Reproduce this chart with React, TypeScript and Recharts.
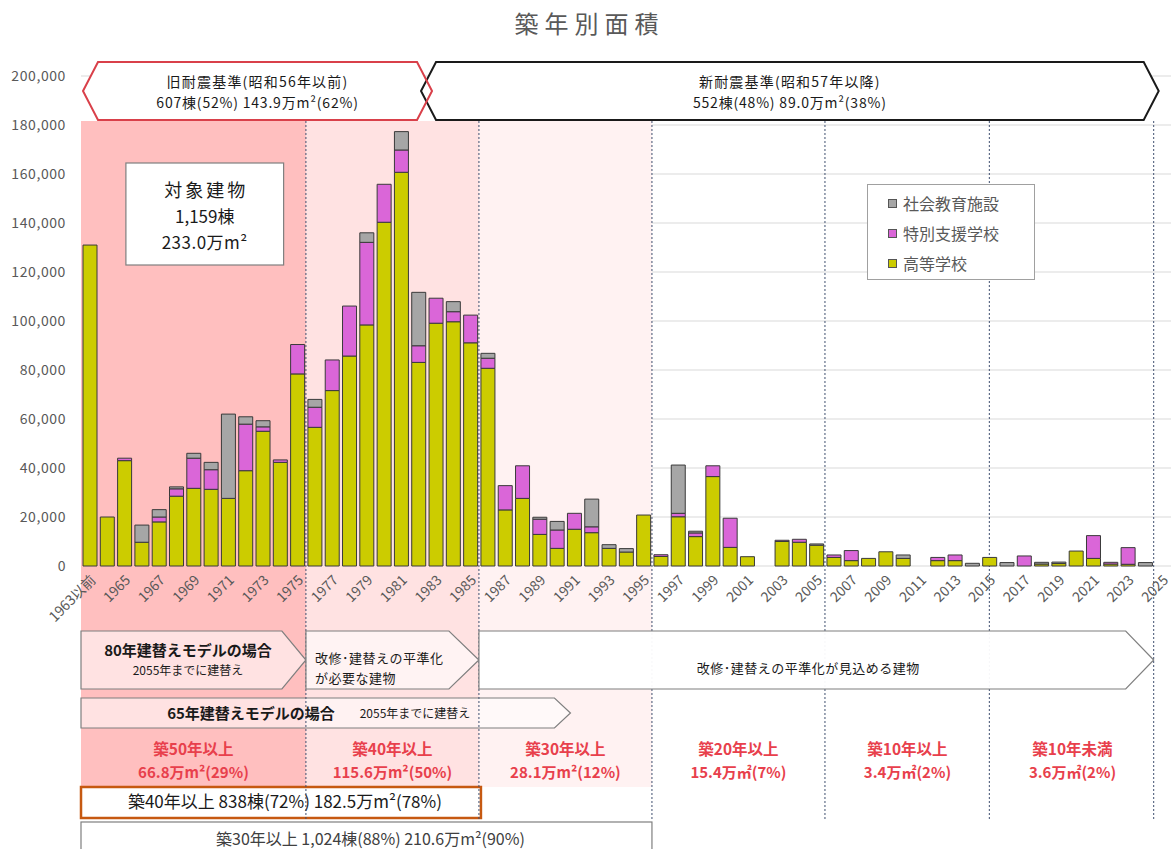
import React from 'react';
import { BarChart, Bar, XAxis, YAxis, CartesianGrid, ReferenceArea, Legend } from 'recharts';

const categories = ['1963以前','1964','1965','1966','1967','1968','1969','1970','1971','1972','1973','1974','1975','1976','1977','1978','1979','1980','1981','1982','1983','1984','1985','1986','1987','1988','1989','1990','1991','1992','1993','1994','1995','1996','1997','1998','1999','2000','2001','2002','2003','2004','2005','2006','2007','2008','2009','2010','2011','2012','2013','2014','2015','2016','2017','2018','2019','2020','2021','2022','2023','2024','2025'];

// 高等学校
const highSchool = [131000,20000,43000,9700,18000,28500,31700,31300,27600,38900,55000,42300,78400,56600,71600,85700,98400,140300,160700,83100,99100,99700,91100,80700,22900,27600,12900,7200,15000,13600,7200,5700,20800,3900,20100,12000,36500,7600,3800,0,10000,9700,8500,3500,2200,3100,5800,3100,0,2200,2200,0,3500,0,0,800,1000,6100,3100,800,700,0,0];
// 特別支援学校
const specialSupport = [0,0,1000,0,2000,3000,12300,8000,0,19000,1800,1000,12000,8200,12500,20400,33700,15500,9100,6800,10200,4100,11300,4100,9900,13300,6200,7500,6500,2400,0,0,0,700,1400,1500,4400,11900,0,0,500,1200,0,1000,4100,0,0,0,0,1300,2300,0,0,0,4100,0,0,0,9300,700,6800,0,0];
// 社会教育施設
const socialEducation = [0,0,0,7000,3000,800,2000,3000,34400,3000,2500,0,0,3200,0,0,3900,0,7500,21800,0,4100,0,2000,0,0,800,3500,0,11300,1500,1400,0,0,19700,700,0,0,0,0,0,0,500,0,0,0,0,1400,0,0,0,1100,0,1400,0,700,600,0,0,0,0,1400,0];

const yTicks = [0,20000,40000,60000,80000,100000,120000,140000,160000,180000,200000];

const seriesNames = ['高等学校','特別支援学校','社会教育施設'];
const legendOrder = ['社会教育施設','特別支援学校','高等学校'];

const redLabels = [
  ['築50年以上','66.8万m²(29%)'],
  ['築40年以上','115.6万m²(50%)'],
  ['築30年以上','28.1万m²(12%)'],
  ['築20年以上','15.4万㎡(7%)'],
  ['築10年以上','3.4万㎡(2%)'],
  ['築10年未満','3.6万㎡(2%)'],
];
const redSpans = [['1963以前','1975',0],['1976','1985',0],['1986','1995',0],['1996','2005',0],['2006','2015',-4],['2016','2025',-12]];

const YELLOW = '#CCCC00';
const PINK = '#DA66D8';
const GRAY = '#A6A6A6';
const colorOf: Record<string,string> = { '高等学校': YELLOW, '特別支援学校': PINK, '社会教育施設': GRAY };

const data = categories.map((c, i) => ({
  year: c,
  [seriesNames[0]]: highSchool[i],
  [seriesNames[1]]: specialSupport[i],
  [seriesNames[2]]: socialEducation[i],
}));

const W = 1173;
const H = 849;
const FONT = '"Noto Sans CJK JP", "Noto Sans", sans-serif';
const BG_TOP = 121;
const BG_BOTTOM = 787;
const LINE_TOP = 121;
const LINE_BOTTOM = 821;

const bgShape = (fill: string) => (p: any) => (
  <rect x={p.x} y={BG_TOP} width={p.width} height={BG_BOTTOM - BG_TOP} fill={fill} />
);

const vline = (pos: 'middle' | 'end') => (p: any) => {
  const x = pos === 'end' ? p.x + p.width : p.x + p.width / 2;
  return <line x1={x} x2={x} y1={LINE_TOP} y2={LINE_BOTTOM} stroke="#3F4F6F" strokeWidth={1} strokeDasharray="2 2" />;
};

const HX_T = 62, HX_B = 120, HX_M = 91, HX_D = 15;
const hexPoints = (l: number, r: number) =>
  `${l},${HX_M} ${l + HX_D},${HX_T} ${r - HX_D},${HX_T} ${r},${HX_M} ${r - HX_D},${HX_B} ${l + HX_D},${HX_B}`;

const hexFill = (dl: number, dr: number) => (p: any) => (
  <polygon points={hexPoints(p.x + dl, p.x + p.width + dr)} fill="#ffffff" stroke="none" />
);
const hexStroke = (dl: number, dr: number, stroke: string, line1: string, line2: string) => (p: any) => {
  const l = p.x + dl;
  const r = p.x + p.width + dr;
  const cx = (l + r) / 2;
  return (
    <g>
      <polygon points={hexPoints(l, r)} fill="none" stroke={stroke} strokeWidth={2} />
      <text x={cx} y={87} textAnchor="middle" fontSize={14} letterSpacing={1.2} fill="#1a1a1a" fontFamily={FONT}>{line1}</text>
      <text x={cx} y={108} textAnchor="middle" fontSize={14} letterSpacing={0.8} fill="#1a1a1a" fontFamily={FONT}>{line2}</text>
    </g>
  );
};

const pentPoints = (l: number, r: number, t: number, b: number, tip: number) =>
  `${l},${t} ${r - tip},${t} ${r},${(t + b) / 2} ${r - tip},${b} ${l},${b}`;

const arrow80 = (p: any) => {
  const l = p.x, r = p.x + p.width;
  return (
    <g>
      <polygon points={pentPoints(l, r, 631, 689, 24)} fill="#ffffff" fillOpacity={0.55} stroke="#7F7F7F" strokeWidth={1.2} />
      <text x={188} y={656} textAnchor="middle" fontSize={15} fontWeight="bold" fill="#1a1a1a" fontFamily={FONT}>80年建替えモデルの場合</text>
      <text x={188} y={675} textAnchor="middle" fontSize={12} fill="#1a1a1a" fontFamily={FONT}>2055年までに建替え</text>
    </g>
  );
};

const arrowKaishu = (p: any) => {
  const l = p.x, r = p.x + p.width;
  return (
    <g>
      <polygon points={pentPoints(l, r, 631, 689, 30)} fill="#ffffff" fillOpacity={0.6} stroke="#7F7F7F" strokeWidth={1.2} />
      <text x={l + 9} y={663} fontSize={13} fill="#1a1a1a" fontFamily={FONT} letterSpacing={0.5}>改修･建替えの平準化</text>
      <text x={l + 9} y={683} fontSize={13} fill="#1a1a1a" fontFamily={FONT} letterSpacing={0.5}>が必要な建物</text>
    </g>
  );
};

const arrowBig = (p: any) => {
  const l = p.x, r = p.x + p.width;
  return (
    <g>
      <polygon points={pentPoints(l, r, 631, 689, 28)} fill="#ffffff" fillOpacity={0.95} stroke="#7F7F7F" strokeWidth={1.2} />
      <text x={(l + r) / 2 - 8} y={673} textAnchor="middle" fontSize={13} fill="#1a1a1a" fontFamily={FONT} letterSpacing={0.5}>改修･建替えの平準化が見込める建物</text>
    </g>
  );
};

const arrow65 = (p: any) => {
  const l = p.x, r = p.x + p.width + 5;
  return (
    <g>
      <polygon points={pentPoints(l, r, 698, 728, 16)} fill="#ffffff" fillOpacity={0.55} stroke="#7F7F7F" strokeWidth={1.2} />
      <text x={251} y={719} textAnchor="middle" fontSize={15} fontWeight="bold" fill="#1a1a1a" fontFamily={FONT}>65年建替えモデルの場合</text>
      <text x={415} y={718} textAnchor="middle" fontSize={12} fill="#1a1a1a" fontFamily={FONT}>2055年までに建替え</text>
    </g>
  );
};

const orangeBox = (p: any) => {
  const l = p.x, r = p.x + p.width + 2;
  return (
    <g>
      <rect x={l} y={787} width={r - l} height={31} fill="#ffffff" stroke="#C65911" strokeWidth={2.5} />
      <text x={(l + r) / 2 + 4} y={808} textAnchor="middle" fontSize={17} fill="#1a1a1a" fontFamily={FONT}>築40年以上 838棟(72%) 182.5万m²(78%)</text>
    </g>
  );
};

const grayBox = (p: any) => {
  const l = p.x, r = p.x + p.width;
  return (
    <g>
      <rect x={l} y={822} width={r - l} height={40} fill="#ffffff" stroke="#7F7F7F" strokeWidth={1.2} />
      <text x={(l + r) / 2 + 4} y={845} textAnchor="middle" fontSize={16} fill="#404040" fontFamily={FONT}>築30年以上 1,024棟(88%) 210.6万m²(90%)</text>
    </g>
  );
};

const targetBox = (p: any) => {
  const l = p.x - 7, r = p.x + p.width - 5;
  const cx = (l + r) / 2;
  return (
    <g>
      <rect x={l} y={163} width={r - l} height={102} fill="#ffffff" stroke="#7F7F7F" strokeWidth={1.2} />
      <text x={cx + 1.5} y={197} textAnchor="middle" fontSize={18} letterSpacing={3} fill="#1a1a1a" fontFamily={FONT}>対象建物</text>
      <text x={cx} y={223} textAnchor="middle" fontSize={17} fill="#1a1a1a" fontFamily={FONT}>1,159棟</text>
      <text x={cx} y={249} textAnchor="middle" fontSize={17} letterSpacing={0.5} fill="#1a1a1a" fontFamily={FONT}>233.0万m²</text>
    </g>
  );
};

const redText = (lines: string[], dx: number) => (p: any) => {
  const cx = p.x + p.width / 2 + dx;
  return (
    <g>
      <text x={cx} y={755} textAnchor="middle" fontSize={15.5} fontWeight="bold" fill="#E8404C" fontFamily={FONT}>{lines[0]}</text>
      <text x={cx} y={778} textAnchor="middle" fontSize={15} fontWeight="bold" fill="#E8404C" fontFamily={FONT}>{lines[1]}</text>
    </g>
  );
};

const LegendBox = () => (
  <div style={{ width: 168, height: 96, boxSizing: 'border-box', border: '1px solid #A0A0A0', background: '#fff', paddingTop: 3, paddingLeft: 20, fontFamily: FONT }}>
    {legendOrder.map((name) => (
      <div key={name} style={{ display: 'flex', alignItems: 'center', height: 30, fontSize: 16, color: '#595959' }}>
        <span style={{ display: 'inline-block', width: 7, height: 7, background: colorOf[name], border: '1px solid #555', marginRight: 6 }} />
        {name}
      </div>
    ))}
  </div>
);

export default function App() {
  return (
    <div style={{ position: 'absolute', left: 0, top: 0, width: W, height: H, background: '#ffffff', fontFamily: FONT, overflow: 'hidden' }}>
      <div style={{ position: 'absolute', left: 0, top: 0 }}>
        <BarChart width={W} height={H} data={data} margin={{ top: 76, right: 2, bottom: 253, left: 11 }} barSize={14}>
          <CartesianGrid vertical={false} stroke="#D9D9D9" />
          <ReferenceArea x1="1963以前" x2="1975" shape={bgShape('#FFBFBF')} />
          <ReferenceArea x1="1976" x2="1985" shape={bgShape('#FFE2E2')} />
          <ReferenceArea x1="1986" x2="1995" shape={bgShape('#FFF2F2')} />
          <XAxis
            dataKey="year"
            interval={1}
            height={30}
            axisLine={false}
            tickLine={false}
            angle={-45}
            textAnchor="end"
            tick={{ fill: '#595959', fontSize: 14, fontFamily: FONT }}
          />
          <YAxis
            width={70}
            domain={[0, 200000]}
            ticks={yTicks}
            axisLine={false}
            tickLine={false}
            tickMargin={9}
            tickFormatter={(v: number) => v.toLocaleString('en-US')}
            tick={{ fill: '#595959', fontSize: 14, fontFamily: FONT, letterSpacing: 0.6 }}
          />
          <Bar dataKey={seriesNames[0]} stackId="a" fill={YELLOW} stroke="#3a3a3a" strokeWidth={1} isAnimationActive={false} />
          <Bar dataKey={seriesNames[1]} stackId="a" fill={PINK} stroke="#3a3a3a" strokeWidth={1} isAnimationActive={false} />
          <Bar dataKey={seriesNames[2]} stackId="a" fill={GRAY} stroke="#3a3a3a" strokeWidth={1} isAnimationActive={false} />
          <ReferenceArea x1="1963以前" x2="1990" shape={arrow65} />
          <ReferenceArea x1="1963以前" x2="1985" shape={orangeBox} />
          <ReferenceArea x1="1963以前" x2="1995" shape={grayBox} />
          <ReferenceArea x1="1975" x2="1975" shape={vline('end')} />
          <ReferenceArea x1="1985" x2="1985" shape={vline('end')} />
          <ReferenceArea x1="1995" x2="1995" shape={vline('end')} />
          <ReferenceArea x1="2005" x2="2005" shape={vline('end')} />
          <ReferenceArea x1="2015" x2="2015" shape={vline('middle')} />
          <ReferenceArea x1="2024" x2="2024" shape={vline('end')} />
          <ReferenceArea x1="1963以前" x2="1975" shape={arrow80} />
          <ReferenceArea x1="1976" x2="1985" shape={arrowKaishu} />
          <ReferenceArea x1="1986" x2="2024" shape={arrowBig} />
          <ReferenceArea x1="1983" x2="2024" shape={hexFill(-6, 5)} />
          <ReferenceArea x1="1963以前" x2="1982" shape={hexFill(2, 5)} />
          <ReferenceArea x1="1983" x2="2024" shape={hexStroke(-6, 5, '#1a1a1a', '新耐震基準(昭和57年以降)', '552棟(48%) 89.0万m²(38%)')} />
          <ReferenceArea x1="1963以前" x2="1982" shape={hexStroke(2, 5, '#D9404A', '旧耐震基準(昭和56年以前)', '607棟(52%) 143.9万m²(62%)')} />
          <ReferenceArea x1="1966" x2="1974" shape={targetBox} />
          {redSpans.map((s, i) => (
            <ReferenceArea key={i} x1={s[0] as string} x2={s[1] as string} shape={redText(redLabels[i], s[2] as number)} />
          ))}
          <Legend
            layout="vertical"
            align="center"
            verticalAlign="middle"
            content={() => <LegendBox />}
            wrapperStyle={{ left: 867, top: 184, width: 168, height: 96 }}
          />
        </BarChart>
      </div>
      <div style={{ position: 'absolute', left: 0, top: 8, width: W, textAlign: 'center', fontSize: 24, letterSpacing: 6, paddingLeft: 6, boxSizing: 'border-box', color: '#595959', lineHeight: '30px', fontFamily: FONT }}>
        築年別面積
      </div>
    </div>
  );
}
